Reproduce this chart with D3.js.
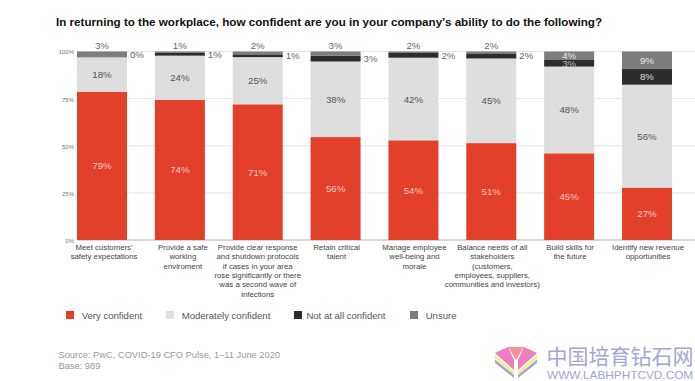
<!DOCTYPE html>
<html lang="en">
<head>
    <meta charset="UTF-8">
    <title>Confidence in returning to the workplace</title>
    <script src="https://d3js.org/d3.v7.min.js"></script>
    <style>
        html, body { margin: 0; padding: 0; background: #fff; }
        svg { display: block; font-family: "Liberation Sans", sans-serif; }
    </style>
</head>
<body>
    <div id="chart"></div>
    <script>
        // Chart data
        var categories = [
            "Meet customers' safety expectations",
            "Provide a safe working enviroment",
            "Provide clear response and shutdown protocols if cases in your area rose significantly or there was a second wave of infections",
            "Retain critical talent",
            "Manage employee well-being and morale",
            "Balance needs of all stakeholders (customers, employees, suppliers, communities and investors)",
            "Build skills for the future",
            "Identify new revenue opportunities"
        ];
        var categoryLines = [
            ["Meet customers'", "safety expectations"],
            ["Provide a safe", "working", "enviroment"],
            ["Provide clear response", "and shutdown protocols", "if cases in your area", "rose significantly or there", "was a second wave of", "infections"],
            ["Retain critical", "talent"],
            ["Manage employee", "well-being and", "morale"],
            ["Balance needs of all", "stakeholders", "(customers,", "employees, suppliers,", "communities and investors)"],
            ["Build skills for", "the future"],
            ["Identify new revenue", "opportunities"]
        ];
        var seriesNames = ["Very confident", "Moderately confident", "Not at all confident", "Unsure"];

        // segment sizes as drawn in the picture (they differ a little from the printed numbers)
        var veryConfident = [78.7, 74.4, 72, 54.6, 52.9, 51.4, 46, 27.8];
        var moderatelyConfident = [18.2, 23.4, 25, 40.1, 43.8, 44.9, 46, 54.6];
        var notAtAll = [0, 1.7, 1.5, 3.1, 2.5, 2.7, 3.5, 8.3];
        var unsure = [3.1, 0.5, 1.5, 2.2, 0.8, 1, 4.5, 9.3];

        // numbers printed on the chart
        var veryLabels = [79, 74, 71, 56, 54, 51, 45, 27];
        var moderatelyLabels = [18, 24, 25, 38, 42, 45, 48, 56];
        var notAtAllLabels = [0, 1, 1, 3, 2, 2, 3, 8];
        var unsureLabels = [3, 1, 2, 3, 2, 2, 4, 9];

        var tickValues = [0, 0.25, 0.5, 0.75, 1];
        var colors = ["#e2402b", "#dedede", "#2d2d2d", "#7d7d7d"];

        var width = 695, height = 381;
        var margin = { top: 51.5, left: 77, right: 0, bottom: 141 };

        var svg = d3.select("#chart").append("svg")
            .attr("width", width)
            .attr("height", height);

        // Title
        svg.append("text")
            .attr("x", 56)
            .attr("y", 26)
            .attr("font-size", 11.65)
            .attr("font-weight", "bold")
            .attr("fill", "#111")
            .text("In returning to the workplace, how confident are you in your company\u2019s ability to do the following?");

        var rows = categories.map(function(c, i) {
            return {
                category: c,
                index: i,
                "Very confident": veryConfident[i],
                "Moderately confident": moderatelyConfident[i],
                "Not at all confident": notAtAll[i],
                "Unsure": unsure[i]
            };
        });

        var stacked = d3.stack().keys(seriesNames).offset(d3.stackOffsetExpand)(rows);
        var printed = [veryLabels, moderatelyLabels, notAtAllLabels, unsureLabels];

        var x = d3.scalePoint()
            .domain(categories)
            .range([102, 647]);
        var barWidth = 50;

        var y = d3.scaleLinear()
            .domain([0, 1])
            .range([height - margin.bottom, margin.top]);

        // Gridlines
        svg.append("g")
            .selectAll("line")
            .data(tickValues)
            .enter()
            .append("line")
            .attr("x1", margin.left)
            .attr("x2", width)
            .attr("y1", function(d) { return y(d); })
            .attr("y2", function(d) { return y(d); })
            .attr("stroke", function(d) { return d === 0 ? "#b0b0b0" : "#e4e4e4"; })
            .attr("stroke-width", 1);

        // Y axis
        var yAxis = d3.axisLeft(y)
            .tickValues(tickValues)
            .tickFormat(d3.format(".0%"))
            .tickSize(0)
            .tickPadding(3);

        var yAxisG = svg.append("g")
            .attr("transform", "translate(" + margin.left + ",0.5)")
            .call(yAxis);
        yAxisG.select(".domain").remove();
        yAxisG.selectAll("text")
            .attr("font-family", "Liberation Sans")
            .attr("font-size", 6)
            .attr("fill", "#777");

        // Bars
        var layers = svg.selectAll(".layer")
            .data(stacked)
            .enter()
            .append("g")
            .attr("class", "layer")
            .attr("fill", function(d, i) { return colors[i]; });

        layers.selectAll("rect")
            .data(function(d) { return d; })
            .enter()
            .append("rect")
            .attr("x", function(d) { return x(d.data.category) - barWidth / 2; })
            .attr("y", function(d) { return y(d[1]); })
            .attr("width", barWidth)
            .attr("height", function(d) { return y(d[0]) - y(d[1]); });

        // Value labels. Thin segments get their label outside the bar
        var labelColors = ["#f6c9c0", "#555", "#ddd", "#e8e8e8"];
        stacked.forEach(function(layer, s) {
            layer.forEach(function(d, i) {
                var value = printed[s][i];
                var px = x(d.data.category);
                var py = (y(d[0]) + y(d[1])) / 2 + 3.5;
                var fill = labelColors[s];
                var last = i >= 6;
                if (s === 3 && !last) {
                    py = 49;
                    fill = "#666";
                } else if (s === 2 && !last) {
                    px += barWidth / 2 + 10;
                    // the 0% has no segment of its own, it sits level with the 1% next to it
                    if (value === 0) py -= 3.3;
                    fill = "#666";
                } else if (s === 2 && i === 6) {
                    fill = "#bbb";
                }
                svg.append("text")
                    .attr("x", px)
                    .attr("y", py)
                    .attr("text-anchor", "middle")
                    .attr("font-size", 9.7)
                    .attr("fill", fill)
                    .text(value + "%");
            });
        });

        // Category labels, nudged a little off the bar centre like the original
        var labelNudge = [2, 3, 0, 1, 1, 1, 1, 1];
        var catLabels = svg.append("g")
            .selectAll("text")
            .data(categories)
            .enter()
            .append("text")
            .attr("text-anchor", "middle")
            .attr("font-size", 7.8)
            .attr("fill", "#444");

        catLabels.each(function(d, i) {
            d3.select(this).selectAll("tspan")
                .data(categoryLines[i])
                .enter()
                .append("tspan")
                .attr("x", x(d) + labelNudge[i])
                .attr("y", function(t, j) { return 250 + j * 9.35; })
                .text(function(t) { return t; });
        });

        // Legend
        var legendX = d3.scaleOrdinal().domain(seriesNames).range([66, 166, 294, 410]);
        var legendTextX = [15.7, 15.7, 12.4, 15.7];
        var legend = svg.selectAll(".legend")
            .data(seriesNames)
            .enter()
            .append("g")
            .attr("class", "legend")
            .attr("transform", function(d) { return "translate(" + legendX(d) + ",311)"; });

        legend.append("rect")
            .attr("width", 8)
            .attr("height", 8)
            .attr("fill", function(d, i) { return colors[i]; });

        legend.append("text")
            .attr("x", function(d, i) { return legendTextX[i]; })
            .attr("y", 7.6)
            .attr("font-size", 9.55)
            .attr("fill", "#555")
            .text(function(d) { return d; });

        // Source
        svg.append("text").attr("x", 58.5).attr("y", 357.5)
            .attr("font-size", 9.3).attr("fill", "#999")
            .text("Source: PwC, COVID-19 CFO Pulse, 1\u201311 June 2020");
        svg.append("text").attr("x", 58.5).attr("y", 368.5)
            .attr("font-size", 9.3).attr("fill", "#999")
            .text("Base: 989");

        // Watermark
        var mark = svg.append("g").attr("transform", "translate(495,347)");
        mark.append("path").attr("d", "M0 6L13 0L19 13V23Z").attr("fill", "#f07cc0");
        mark.append("path").attr("d", "M42 6L29 0L23 13V23Z").attr("fill", "#f07cc0");
        mark.append("path").attr("d", "M13 0H29L21 13Z").attr("fill", "#f49499");
        mark.append("path").attr("d", "M0 8L19 24.5V27.5L0 11.5Z").attr("fill", "#f5ec7a");
        mark.append("path").attr("d", "M42 8L23 24.5V27.5L42 11.5Z").attr("fill", "#f5ec7a");
        mark.append("path").attr("d", "M0 12.5L19 28V31L0 16Z").attr("fill", "#a3a5d5");
        mark.append("path").attr("d", "M42 12.5L23 28V31L42 16Z").attr("fill", "#a3a5d5");
        svg.append("text").attr("x", 546.5).attr("y", 364)
            .attr("font-family", "Noto Sans CJK SC")
            .attr("font-size", 21).attr("fill", "#a3a5d5")
            .text("中国培育钻石网");
        svg.append("text").attr("x", 547).attr("y", 378.5)
            .attr("font-size", 11.8).attr("fill", "#a3a5d5")
            .text("WWW.LABHPHTCVD.COM");
    </script>
</body>
</html>
